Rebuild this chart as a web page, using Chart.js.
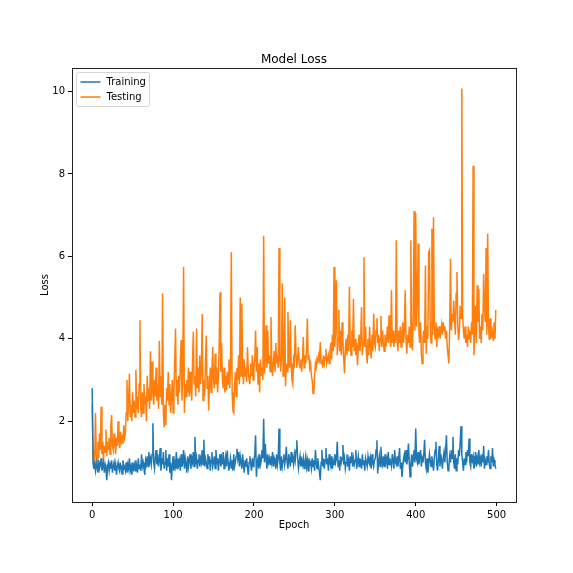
<!DOCTYPE html>
<html>
<head>
<meta charset="utf-8">
<script src="https://cdn.jsdelivr.net/npm/chart.js@4"></script>
<style>
  html, body { margin: 0; padding: 0; background: #fff; }
  #loss { display: block; }
</style>
</head>
<body>
<canvas id="loss" width="573" height="573"></canvas>
<script>
// values, one per epoch (0..499)
var training = [
  2.8, 1.0, 0.85, 0.95, 0.8, 1.0, 0.9, 0.75, 1.05, 0.85,
  0.95, 1.1, 0.8, 0.9, 1.0, 0.75, 0.95, 0.85, 0.57, 0.9,
  1.0, 0.8, 0.95, 0.85, 1.05, 0.75, 0.9, 1.0, 0.8, 0.95,
  0.7, 0.9, 1.0, 0.85, 0.78, 0.95, 0.9, 0.72, 1.05, 0.85,
  0.9, 0.8, 1.0, 0.75, 0.95, 0.85, 1.1, 0.8, 0.9, 0.7,
  1.0, 0.85, 0.95, 0.8, 1.05, 0.9, 0.75, 1.1, 0.85, 0.95,
  0.8, 1.2, 0.9, 1.0, 0.85, 0.7, 1.05, 0.95, 1.15, 0.9,
  1.25, 1.0, 1.1, 0.95, 1.2, 1.95, 1.0, 0.85, 1.1, 1.3,
  0.95, 1.2, 0.9, 1.05, 1.35, 0.8, 1.1, 0.95, 1.25, 0.85,
  1.0, 1.3, 0.8, 1.1, 0.9, 1.2, 0.75, 1.0, 0.57, 0.9,
  1.15, 0.8, 1.0, 0.9, 1.25, 0.85, 1.1, 0.95, 1.05, 0.8,
  1.2, 0.9, 1.0, 1.3, 0.85, 1.1, 0.95, 0.75, 1.15, 0.9,
  1.05, 1.2, 0.85, 1.1, 1.0, 1.25, 0.9, 1.62, 0.95, 1.1,
  0.85, 1.05, 1.2, 0.9, 1.1, 1.0, 1.3, 0.95, 1.55, 0.9,
  1.1, 1.0, 0.85, 1.2, 0.95, 1.15, 0.8, 1.05, 1.25, 0.9,
  1.0, 1.15, 0.85, 1.3, 0.95, 1.1, 0.8, 1.05, 1.2, 0.9,
  1.1, 0.95, 1.25, 0.85, 1.0, 1.15, 0.9, 1.29, 1.0, 0.8,
  0.95, 1.1, 0.85, 1.05, 0.8, 1.2, 0.9, 1.0, 1.15, 1.33,
  1.1, 1.25, 0.9, 1.15, 1.0, 0.85, 1.2, 0.95, 0.75, 1.05,
  0.9, 1.1, 0.85, 0.7, 1.0, 1.15, 0.95, 0.8, 1.1, 0.9,
  1.05, 1.2, 1.66, 0.65, 1.0, 1.1, 0.85, 1.2, 0.95, 1.05,
  1.3, 1.1, 2.06, 1.0, 1.45, 1.1, 0.85, 1.2, 1.0, 1.1,
  0.95, 1.15, 1.0, 1.25, 0.9, 1.1, 1.0, 0.85, 1.2, 0.95,
  1.1, 1.82, 1.0, 0.8, 1.15, 0.9, 1.05, 1.2, 0.95, 1.1,
  1.38, 1.0, 0.85, 1.2, 1.05, 0.9, 1.25, 1.0, 1.1, 0.95,
  1.2, 1.05, 1.3, 1.54, 1.1, 0.85, 1.0, 1.15, 0.9, 1.05,
  0.95, 1.1, 0.85, 1.0, 1.15, 0.9, 1.05, 0.8, 1.1, 0.95,
  1.0, 0.85, 1.1, 0.9, 1.05, 0.8, 1.3, 1.0, 0.85, 1.1,
  0.9, 0.75, 0.57, 1.0, 1.3, 0.9, 1.1, 0.85, 1.05, 1.35,
  0.95, 1.1, 0.8, 1.2, 1.0, 0.9, 1.15, 0.85, 1.05, 0.95,
  1.2, 1.0, 1.1, 1.5, 0.9, 1.05, 0.8, 1.15, 1.0, 1.1,
  1.42, 0.95, 1.1, 0.85, 1.0, 1.2, 0.9, 1.05, 0.8, 1.15,
  1.0, 1.25, 0.9, 1.1, 0.95, 1.05, 1.3, 0.85, 1.0, 1.15,
  0.9, 1.1, 1.0, 0.85, 1.2, 0.95, 1.05, 0.8, 1.1, 1.0,
  0.9, 1.15, 1.0, 0.95, 1.1, 0.85, 1.2, 1.0, 0.9, 1.05,
  1.1, 1.3, 1.54, 0.73, 1.0, 1.15, 0.9, 1.38, 1.05, 0.95,
  1.15, 0.9, 1.2, 1.0, 1.1, 0.85, 1.25, 0.95, 1.1, 1.0,
  0.9, 1.2, 1.05, 0.85, 1.3, 1.0, 0.95, 1.15, 0.9, 1.1,
  1.35, 0.85, 1.0, 0.65, 0.9, 1.1, 1.2, 1.0, 1.3, 0.95,
  1.1, 1.46, 1.0, 0.65, 0.95, 1.2, 0.9, 1.1, 1.3, 1.0,
  1.82, 1.1, 1.0, 1.25, 0.95, 1.15, 1.3, 0.9, 1.1, 1.0,
  1.2, 1.55, 1.0, 0.85, 1.1, 0.75, 0.95, 1.2, 1.05, 0.9,
  1.15, 1.0, 0.8, 1.1, 1.3, 1.5, 0.95, 0.8, 1.1, 1.4,
  0.9, 1.2, 1.05, 0.85, 1.1, 1.25, 1.0, 1.3, 1.66, 1.0,
  0.8, 0.9, 1.15, 1.0, 1.3, 1.1, 1.62, 1.0, 0.85, 1.2,
  0.8, 1.1, 0.95, 1.3, 1.15, 1.5, 1.88, 1.2, 1.0, 0.8,
  1.1, 0.95, 1.25, 1.0, 1.3, 1.15, 1.58, 1.0, 0.9, 1.2,
  1.05, 1.15, 0.85, 1.0, 1.25, 0.9, 1.1, 0.95, 1.3, 1.0,
  1.1, 0.9, 1.2, 1.0, 1.4, 0.85, 1.05, 0.95, 1.15, 1.0,
  1.3, 0.95, 0.85, 1.15, 1.0, 1.35, 0.9, 1.05, 0.95, 0.85
];

var testing = [
  2.4, 1.3, 0.85, 0.95, 2.2, 1.2, 0.95, 1.5, 1.1, 1.7,
  1.3, 2.35, 1.2, 1.5, 1.05, 1.4, 1.25, 1.8, 1.15, 1.5,
  1.3, 1.6, 1.2, 1.9, 2.15, 1.4, 1.3, 1.7, 1.45, 1.2,
  1.6, 1.4, 2.0, 1.5, 1.35, 1.75, 1.5, 1.6, 1.45, 1.9,
  1.6, 1.7, 2.2, 3.0, 2.0, 2.5, 3.15, 2.1, 2.4, 2.0,
  2.7, 2.2, 2.5, 2.1, 3.25, 2.3, 2.6, 2.2, 2.9, 4.45,
  2.3, 2.1, 2.7, 2.2, 2.9, 2.4, 2.6, 2.0, 3.1, 2.5,
  2.8, 2.3, 3.7, 2.5, 3.45, 2.7, 2.4, 3.0, 2.6, 3.3,
  2.5, 2.9, 2.3, 3.95, 2.6, 3.1, 2.4, 5.1, 2.2, 1.85,
  2.4, 1.9, 2.8, 2.5, 3.2, 2.4, 2.9, 2.2, 2.6, 3.0,
  2.2, 2.7, 3.4, 4.25, 2.6, 3.0, 2.4, 3.1, 2.7, 3.5,
  3.97, 2.5, 3.2, 5.75, 2.2, 2.9, 2.6, 3.0, 2.7, 3.3,
  2.6, 3.2, 2.8, 2.5, 3.4, 4.17, 2.9, 3.1, 2.6, 4.25,
  2.8, 3.3, 2.7, 3.6, 2.9, 3.2, 4.6, 2.5, 3.0, 2.6,
  3.4, 4.08, 2.8, 3.1, 2.26, 2.9, 3.3, 2.7, 3.2, 3.8,
  3.0, 2.8, 3.64, 2.9, 3.3, 2.7, 3.1, 3.9, 5.13, 3.2,
  3.89, 3.0, 2.8, 3.3, 2.7, 3.1, 2.75, 3.2, 2.9, 3.5,
  2.8, 3.3, 6.1, 2.7, 2.25, 2.2, 2.9, 3.2, 2.6, 3.3,
  3.0, 3.6, 2.9, 5.0, 3.1, 4.85, 3.3, 2.9, 3.5, 3.1,
  3.3, 2.95, 3.8, 3.2, 3.0, 2.9, 3.4, 3.1, 3.6, 3.0,
  3.3, 3.5, 4.2, 3.2, 3.8, 2.9, 3.4, 2.7, 3.5, 3.1,
  3.3, 3.0, 6.5, 3.15, 3.5, 4.33, 3.3, 4.2, 3.4, 3.6,
  3.2, 4.53, 3.5, 3.1, 3.4, 3.7, 3.2, 3.9, 3.4, 3.6,
  3.3, 6.2, 3.5, 3.2, 3.6, 5.34, 3.1, 3.5, 5.0, 2.85,
  3.4, 3.2, 4.65, 3.6, 3.3, 4.45, 3.4, 3.0, 2.9, 3.5,
  3.4, 4.33, 3.6, 3.3, 3.5, 3.8, 3.4, 3.3, 3.5, 3.2,
  3.5, 4.04, 3.3, 3.6, 3.4, 3.7, 4.49, 3.5, 3.6, 3.3,
  3.4, 3.1, 3.0, 2.67, 2.7, 3.1, 3.4, 3.3, 3.5, 3.4,
  3.6, 3.5, 3.92, 3.4, 3.5, 3.3, 3.6, 3.4, 3.55, 3.75,
  3.4, 3.5, 3.6, 3.4, 3.7, 3.9, 3.5, 4.1, 3.7, 5.74,
  3.8, 4.3, 5.42, 3.6, 4.0, 4.7, 3.7, 4.2, 3.6, 4.4,
  3.9, 3.5, 3.16, 3.8, 4.0, 3.6, 4.1, 3.7, 5.26, 3.9,
  3.6, 4.2, 3.8, 4.97, 3.7, 4.0, 3.6, 3.9, 3.36, 3.8,
  4.1, 3.7, 4.0, 4.77, 3.6, 3.9, 5.98, 3.8, 4.3, 3.7,
  3.4, 4.0, 3.6, 4.29, 3.8, 3.52, 4.1, 3.7, 4.61, 3.9,
  3.8, 4.2, 4.5, 3.9, 4.1, 3.7, 4.0, 4.55, 3.8, 4.2,
  3.9, 3.7, 4.1, 3.8, 4.0, 4.3, 3.9, 4.57, 4.0, 3.8,
  5.18, 3.9, 4.2, 3.8, 4.1, 3.9, 6.39, 4.0, 3.7, 4.2,
  3.9, 4.3, 3.8, 4.1, 4.4, 3.9, 4.2, 5.18, 4.0, 3.64,
  4.1, 3.9, 4.3, 3.8, 6.39, 4.0, 3.72, 4.6, 7.1, 4.2,
  7.05, 4.3, 4.9, 6.31, 4.1, 3.9, 4.4, 3.6, 3.4, 4.0,
  4.2, 3.9, 5.78, 3.64, 4.3, 4.0, 6.1, 6.15, 4.2, 3.9,
  6.67, 4.1, 6.95, 4.3, 4.0, 4.4, 3.8, 4.2, 4.1, 4.3,
  4.0, 4.2, 4.35, 4.1, 4.4, 4.2, 4.3, 4.0, 4.2, 3.8,
  3.6, 3.4, 4.3, 5.94, 4.2, 4.6, 4.4, 4.93, 4.5, 4.1,
  5.1, 5.62, 4.3, 3.97, 4.2, 4.8, 4.5, 10.07, 4.6, 4.2,
  4.0, 4.3, 3.9, 4.1, 3.8, 4.3, 4.0, 4.2, 3.9, 4.4,
  4.1, 8.2, 3.6, 4.2, 4.8, 3.9, 5.3, 4.4, 5.2, 4.0,
  4.3, 3.9, 4.6, 4.2, 5.57, 4.8, 4.4, 6.2, 4.1, 6.55,
  4.3, 3.97, 4.5, 4.0, 4.3, 4.1, 3.95, 4.4, 4.0, 4.7
];

var xTicks = [0, 100, 200, 300, 400, 500];
var yTicks = [2, 4, 6, 8, 10];

var seriesNames = ['Training', 'Testing'];
var seriesColors = ['#1f77b4', '#ff7f0e'];

var FONT = 'DejaVu Sans';

function toPoints(arr) {
    return arr.map(function (v, i) { return { x: i, y: v }; });
}

// title, frame and legend, drawn the matplotlib way
var decor = {
    id: 'decor',
    afterDatasetsDraw: function (chart) {
        var ctx = chart.ctx;
        var a = chart.chartArea;
        ctx.save();
        ctx.strokeStyle = '#222';
        ctx.lineWidth = 1;
        ctx.strokeRect(Math.round(a.left) + 0.5, Math.round(a.top) + 0.5,
            Math.round(a.right - a.left), Math.round(a.bottom - a.top));

        // title
        ctx.fillStyle = '#000';
        ctx.font = '12px "' + FONT + '"';
        ctx.textAlign = 'center';
        ctx.textBaseline = 'middle';
        ctx.fillText('Model Loss', (a.left + a.right) / 2, 60);

        // legend box
        var bx = a.left + 4.5, by = a.top + 4.5, bw = 73, bh = 34;
        ctx.fillStyle = 'rgba(255,255,255,0.8)';
        ctx.strokeStyle = '#d5d5d5';
        ctx.beginPath();
        ctx.roundRect(bx, by, bw, bh, 2);
        ctx.fill();
        ctx.stroke();
        ctx.font = '10px "' + FONT + '"';
        ctx.textAlign = 'left';
        for (var i = 0; i < seriesNames.length; i++) {
            var ly = by + 9.5 + i * 15;
            ctx.strokeStyle = seriesColors[i];
            ctx.lineWidth = 1.5;
            ctx.beginPath();
            ctx.moveTo(bx + 4, ly);
            ctx.lineTo(bx + 24, ly);
            ctx.stroke();
            ctx.fillStyle = '#000';
            ctx.fillText(seriesNames[i], bx + 30, ly);
        }
        ctx.restore();
    }
};

var ctx = document.getElementById('loss');
var myChart = new Chart(ctx, {
    type: 'line',
    data: {
        datasets: [
            {
                label: seriesNames[0],
                data: toPoints(training),
                borderColor: seriesColors[0],
                backgroundColor: seriesColors[0],
                borderWidth: 1.5,
                pointRadius: 0,
                tension: 0
            },
            {
                label: seriesNames[1],
                data: toPoints(testing),
                borderColor: seriesColors[1],
                backgroundColor: seriesColors[1],
                borderWidth: 1.5,
                pointRadius: 0,
                tension: 0
            }
        ]
    },
    options: {
        responsive: false,
        animation: false,
        devicePixelRatio: 1,
        layout: {
            padding: { left: 0, top: 68, right: 57, bottom: 0 }
        },
        plugins: {
            legend: { display: false },
            title: { display: false },
            tooltip: { enabled: false }
        },
        scales: {
            x: {
                type: 'linear',
                min: -25,
                max: 524,
                afterFit: function (scale) { scale.height = 71; },
                afterBuildTicks: function (scale) {
                    scale.ticks = xTicks.map(function (v) { return { value: v }; });
                },
                grid: {
                    drawOnChartArea: false,
                    drawTicks: true,
                    tickLength: 4,
                    tickColor: '#000'
                },
                border: { display: false },
                ticks: {
                    color: '#000',
                    padding: 3,
                    maxRotation: 0,
                    font: { family: FONT, size: 10 }
                },
                title: {
                    display: true,
                    text: 'Epoch',
                    color: '#000',
                    font: { family: FONT, size: 10 },
                    padding: { top: 0, bottom: 42 }
                }
            },
            y: {
                type: 'linear',
                min: 0.04,
                max: 10.57,
                afterFit: function (scale) { scale.width = 72; },
                afterBuildTicks: function (scale) {
                    scale.ticks = yTicks.map(function (v) { return { value: v }; });
                },
                grid: {
                    drawOnChartArea: false,
                    drawTicks: true,
                    tickLength: 4,
                    tickColor: '#000'
                },
                border: { display: false },
                ticks: {
                    color: '#000',
                    padding: 3,
                    font: { family: FONT, size: 10 }
                },
                title: {
                    display: true,
                    text: 'Loss',
                    color: '#000',
                    font: { family: FONT, size: 10 },
                    padding: { top: 39, bottom: 0 }
                }
            }
        }
    },
    plugins: [decor]
});
</script>
</body>
</html>
